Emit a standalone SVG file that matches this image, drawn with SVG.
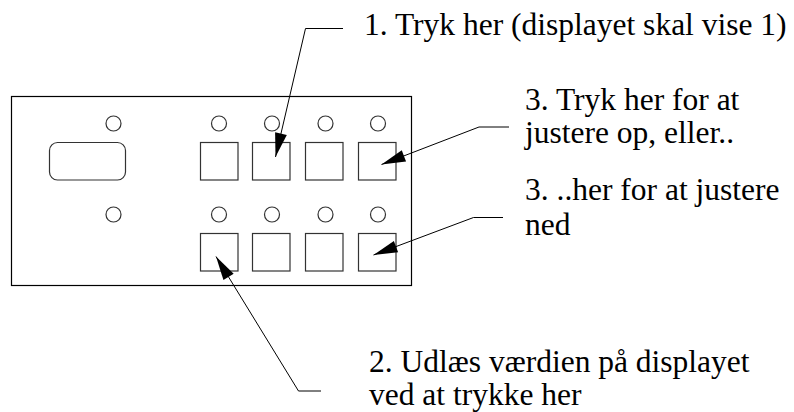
<svg xmlns="http://www.w3.org/2000/svg" width="794" height="412" viewBox="0 0 794 412">
  <defs>
    <marker id="arrow" markerUnits="userSpaceOnUse" markerWidth="24" markerHeight="12" refX="24" refY="6" orient="auto" overflow="visible">
      <path d="M0,0 L24,6 L0,12 Z" fill="#000"/>
    </marker>
    <style>
      .panel { fill: #fff; stroke: #000; stroke-width: 1.2; }
      .part { fill: #fff; stroke: #333; stroke-width: 1.2; }
      .conn { fill: none; stroke: #000; stroke-width: 1; marker-end: url(#arrow); }
      .lbl { font-family: 'Liberation Serif', 'Times New Roman', 'DejaVu Serif', serif; font-size: 31.5px; fill: #000; }
    </style>
  </defs>
  <rect width="794" height="412" fill="#fff"/>

  <g id="panel">
    <rect class="panel" x="11.5" y="96.5" width="400" height="189"/>
  </g>
  <g id="display">
    <rect class="part" x="49.5" y="142.5" width="76" height="37.5" rx="8" ry="8"/>
  </g>
  <g id="leds-left">
    <circle class="part" cx="113.5" cy="123.5" r="7.5"/>
    <circle class="part" cx="113.5" cy="214.5" r="7.5"/>
  </g>
  <g id="leds-top">
    <circle class="part" cx="219" cy="123.5" r="7.5"/>
    <circle class="part" cx="272" cy="123.5" r="7.5"/>
    <circle class="part" cx="325.5" cy="123.5" r="7.5"/>
    <circle class="part" cx="378" cy="123.5" r="7.5"/>
  </g>
  <g id="leds-bottom">
    <circle class="part" cx="219" cy="214.5" r="7.5"/>
    <circle class="part" cx="272" cy="214.5" r="7.5"/>
    <circle class="part" cx="325.5" cy="214.5" r="7.5"/>
    <circle class="part" cx="378" cy="214.5" r="7.5"/>
  </g>
  <g id="buttons-top">
    <rect class="part" x="200.5" y="142.5" width="37.5" height="37.5"/>
    <rect class="part" x="252.5" y="142.5" width="37.5" height="37.5"/>
    <rect class="part" x="305.5" y="142.5" width="37.5" height="37.5"/>
    <rect class="part" x="358.5" y="142.5" width="37.5" height="37.5"/>
  </g>
  <g id="buttons-bottom">
    <rect class="part" x="200.5" y="233.5" width="37.5" height="37.5"/>
    <rect class="part" x="252.5" y="233.5" width="37.5" height="37.5"/>
    <rect class="part" x="305.5" y="233.5" width="37.5" height="37.5"/>
    <rect class="part" x="358.5" y="233.5" width="37.5" height="37.5"/>
  </g>

  <g id="connectors">
    <polyline class="conn" points="343,28.5 305.5,28.5 275.5,157"/>
    <polyline class="conn" points="509,127 479,127 381.5,164.5"/>
    <polyline class="conn" points="503,217.5 473.5,217.5 373.5,255"/>
    <polyline class="conn" points="321,391 298.5,391 216,256.5"/>
  </g>

  <g id="label-1">
    <text class="lbl" x="364" y="35">1. Tryk her (displayet skal vise 1)</text>
  </g>
  <g id="label-3-up">
    <text class="lbl" x="525" y="109.5">3. Tryk her for at</text>
    <text class="lbl" x="525" y="143">justere op, eller..</text>
  </g>
  <g id="label-3-down">
    <text class="lbl" x="525" y="200">3. ..her for at justere</text>
    <text class="lbl" x="525" y="234.5">ned</text>
  </g>
  <g id="label-2">
    <text class="lbl" x="369" y="371.5">2. Udlæs værdien på displayet</text>
    <text class="lbl" x="369" y="404.5">ved at trykke her</text>
  </g>
</svg>
